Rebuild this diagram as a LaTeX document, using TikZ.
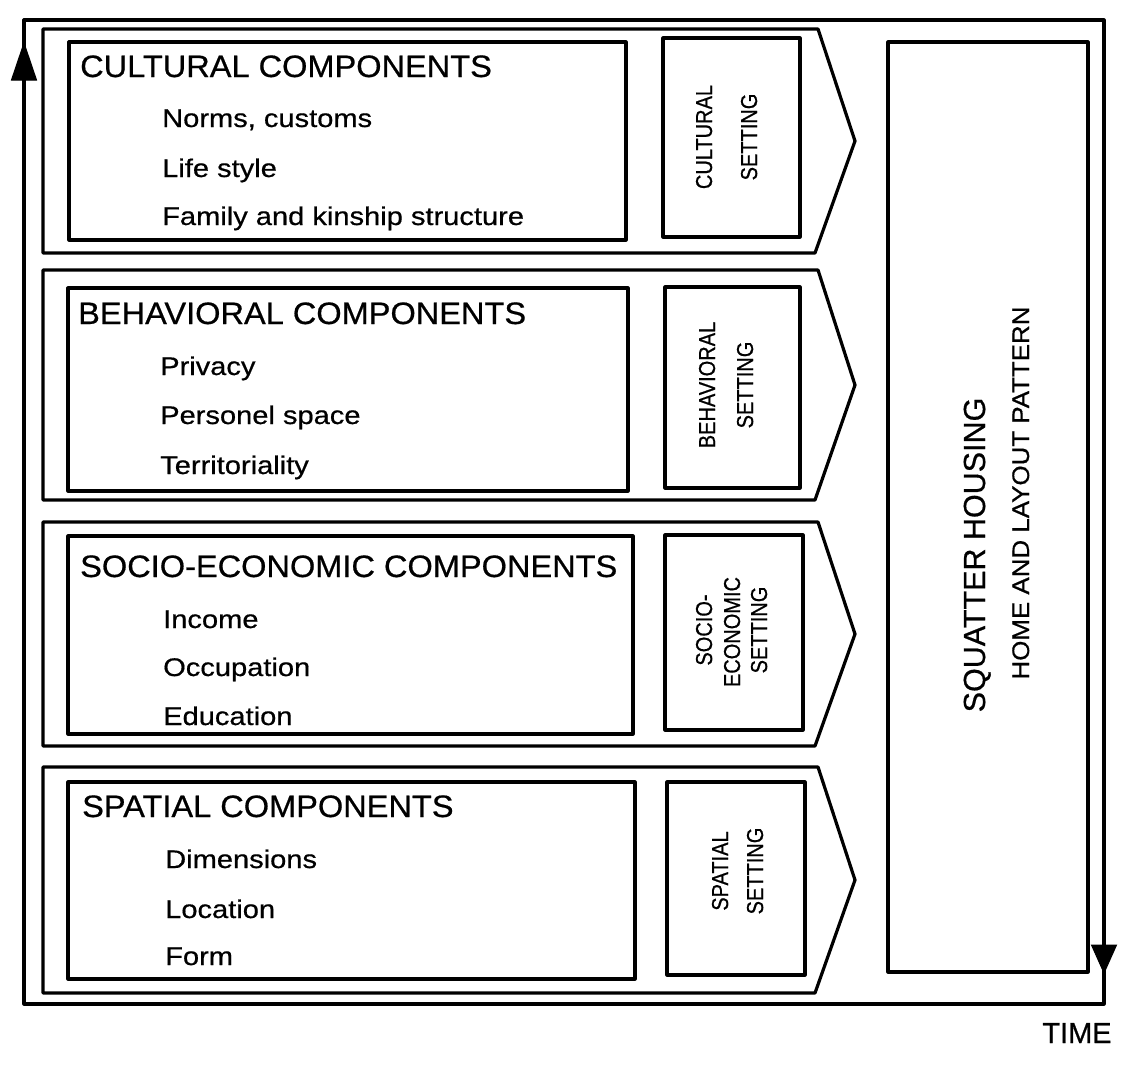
\documentclass[tikz,border=0pt]{standalone}
\usepackage{fontspec}
\setmainfont{Liberation Sans}
\newfontfamily\headfont[FakeStretch=1.05,FakeBold=0.6]{Liberation Sans}
\newfontfamily\itemfont[FakeStretch=1.14,FakeBold=0.6]{Liberation Sans}
\newfontfamily\setfont[FakeStretch=0.87,FakeBold=0.6]{Liberation Sans}
\newfontfamily\bigfont[FakeBold=0.6]{Liberation Sans}
\newfontfamily\homefont[FakeStretch=1.08,FakeBold=0.6]{Liberation Sans}
\newcommand\mychevron[2]{\draw[frame] (43,#1) -- (818,#1) -- (855,{(#1+#2)/2}) -- (815,#2) -- (43,#2) -- cycle;}
\tikzset{
  frame/.style={draw, line width=3.2pt, line join=round},
  head/.style={anchor=base west, inner sep=0pt, font=\headfont\fontsize{31}{36}\selectfont},
  itemtxt/.style={anchor=base west, inner sep=0pt, font=\itemfont\fontsize{25.5}{30}\selectfont},
  settxt/.style={anchor=base, rotate=90, inner sep=0pt, font=\setfont\fontsize{23}{27}\selectfont},
  bigtxt/.style={anchor=base, rotate=90, inner sep=0pt, font=\bigfont\fontsize{30.5}{36}\selectfont},
  hometxt/.style={anchor=base, rotate=90, inner sep=0pt, font=\homefont\fontsize{24}{29}\selectfont},
  arrowhead/.style={fill=black, draw=black, line width=1pt, line join=miter},
}
\begin{document}
\begin{tikzpicture}[x=1pt,y=-1pt]
\useasboundingbox (0,0) rectangle (1121,1066);
% outer time frame
\coordinate (tl) at (24,20);
\coordinate (tr) at (1104,20);
\coordinate (br) at (1104,1004);
\coordinate (bl) at (24,1004);
\draw[frame] (bl) -- (tl) -- (tr) -- (br) -- cycle;
\draw[arrowhead] (24,43) -- (11.5,80) -- (36.5,80) -- cycle;
\draw[arrowhead] (1104,973) -- (1091.5,945) -- (1116.5,945) -- cycle;
\node[anchor=base, inner sep=0pt, font=\bigfont\fontsize{29}{34}\selectfont] (time) at (1077,1043) {TIME};

% chevrons
\mychevron{29}{253}
\mychevron{270}{500}
\mychevron{522}{746}
\mychevron{767}{993}

% component boxes
\draw[frame] (69,42) rectangle (626,240);
\draw[frame] (68,288) rectangle (628,491);
\draw[frame] (68,536) rectangle (633,734);
\draw[frame] (68,782) rectangle (635,979);

% setting boxes
\draw[frame] (663,38) rectangle (800,237);
\draw[frame] (665,287) rectangle (800,488);
\draw[frame] (665,535) rectangle (803,730);
\draw[frame] (667,782) rectangle (805,975);

% squatter box
\draw[frame] (888,42) rectangle (1088,972);

% cultural
\node[head] (h1) at (80,77) {CULTURAL COMPONENTS};
\node[itemtxt] (i11) at (162,127) {Norms, customs};
\node[itemtxt] (i12) at (162,177) {Life style};
\node[itemtxt] (i13) at (162,225) {Family and kinship structure};
% behavioral
\node[head] (h2) at (78,324) {BEHAVIORAL COMPONENTS};
\node[itemtxt] (i21) at (160,375) {Privacy};
\node[itemtxt] (i22) at (160,424) {Personel space};
\node[itemtxt] (i23) at (160,474) {Territoriality};
% socio-economic
\node[head] (h3) at (80,577) {SOCIO-ECONOMIC COMPONENTS};
\node[itemtxt] (i31) at (163,628) {Income};
\node[itemtxt] (i32) at (163,676) {Occupation};
\node[itemtxt] (i33) at (163,725) {Education};
% spatial
\node[head] (h4) at (82,817) {SPATIAL COMPONENTS};
\node[itemtxt] (i41) at (165,868) {Dimensions};
\node[itemtxt] (i42) at (165,918) {Location};
\node[itemtxt] (i43) at (165,965) {Form};

% setting labels
\node[settxt] (s1a) at (712,137) {CULTURAL};
\node[settxt] (s1b) at (757,137) {SETTING};
\node[settxt] (s2a) at (715,385) {BEHAVIORAL};
\node[settxt] (s2b) at (753,385) {SETTING};
\node[settxt] (s3a) at (712,630) {SOCIO-};
\node[settxt] (s3b) at (740,632) {ECONOMIC};
\node[settxt] (s3c) at (767,630) {SETTING};
\node[settxt] (s4a) at (728,871) {SPATIAL};
\node[settxt] (s4b) at (763,871) {SETTING};

% squatter housing
\node[bigtxt] (sq) at (985,555) {SQUATTER HOUSING};
\node[hometxt] (hm) at (1029,493) {HOME AND LAYOUT PATTERN};
\end{tikzpicture}
\end{document}
